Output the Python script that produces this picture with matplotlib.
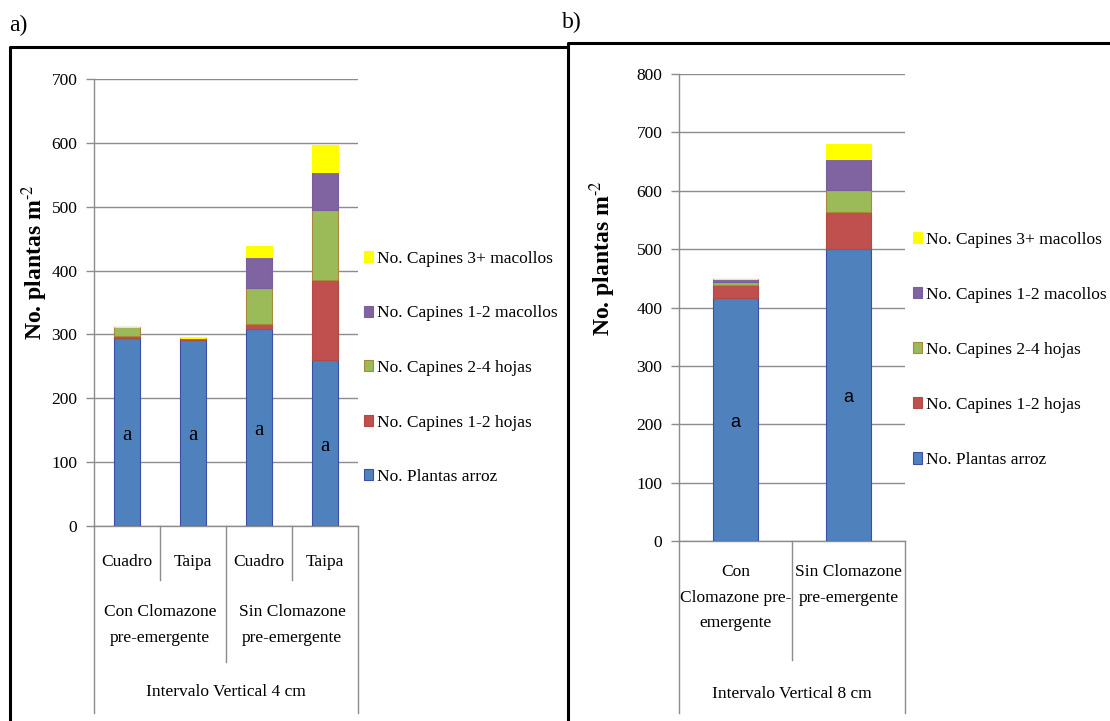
import numpy as np
import matplotlib
matplotlib.use('Agg')
import matplotlib.pyplot as plt
from matplotlib.lines import Line2D

plt.rcParams['font.family'] = ['Liberation Serif', 'DejaVu Serif']
plt.rcParams['mathtext.fontset'] = 'stix'

W, H = 1110, 721

# series apiladas (de abajo hacia arriba)
series = ['No. Plantas arroz', 'No. Capines 1-2 hojas', 'No. Capines 2-4 hojas',
          'No. Capines 1-2 macollos', 'No. Capines 3+ macollos']
colores = ['#4f81bd', '#c0504d', '#9bbb59', '#8064a2', '#ffff00']
bordes = ['#3b4fa6', '#b04a47', '#a8883a', '#7a5f9c', '#ffff00']

# a) Intervalo vertical 4 cm
cat_a = ['Cuadro', 'Taipa', 'Cuadro', 'Taipa']
grupos_a = ['Con Clomazone\npre-emergente', 'Sin Clomazone\npre-emergente']
arroz_a = [294, 292, 309, 260]
h12_a = [3, 2, 8, 125]
h24_a = [15, 1, 55, 110]
m12_a = [0, 0, 49, 59]
m3_a = [0, 0, 17, 43]
letras_a = ['a', 'a', 'a', 'a']

# b) Intervalo vertical 8 cm
cat_b = ['Con\nClomazone pre-\nemergente', 'Sin Clomazone\npre-emergente']
arroz_b = [417, 500]
h12_b = [22, 64]
h24_b = [5, 37]
m12_b = [4, 54]
m3_b = [1, 25]
letras_b = ['a', 'a']

gris = '#8c8c8c'


def fx(px):
    return px / W


def fy(py):
    return 1 - py / H


def barras(ax, valores, ancho, letras, fam_letra, tam_letra):
    x = np.arange(len(valores[0]))
    base = np.zeros(len(x))
    for vals, c, e, nombre in zip(valores, colores, bordes, series):
        ax.bar(x, vals, ancho, bottom=base, color=c, edgecolor=e,
               linewidth=0.8, label=nombre, zorder=3)
        base += np.array(vals)
    for xi, v, l in zip(x, valores[0], letras):
        ax.text(xi, v / 2 - 5, l, ha='center', va='center', zorder=4,
                family=fam_letra, fontsize=tam_letra, color='black')


def estilo(ax, ymax, paso):
    ax.set_ylim(0, ymax)
    ax.set_yticks(np.arange(0, ymax + 1, paso))
    ax.set_xticks([])
    ax.yaxis.grid(True, color=gris, linewidth=1)
    ax.set_axisbelow(True)
    for s in ['top', 'right']:
        ax.spines[s].set_visible(False)
    for s in ['left', 'bottom']:
        ax.spines[s].set_color(gris)
        ax.spines[s].set_linewidth(1)
    ax.tick_params(axis='y', length=6, color=gris, width=1, pad=6,
                   labelsize=12.5)


def linea_cat(ax, x, py_fin, y0_px, alto_px):
    # separador vertical del eje de categorias, y en pixeles de la figura
    ya = (y0_px - py_fin) / alto_px
    ax.plot([x, x], [0, ya], transform=ax.get_xaxis_transform(),
            color=gris, linewidth=1, clip_on=False)


def texto_cat(ax, x, py, s, y0_px, alto_px, va='center'):
    ya = (y0_px - py) / alto_px
    ax.text(x, ya, s, transform=ax.get_xaxis_transform(), ha='center',
            va=va, fontsize=12.5, linespacing=1.8, multialignment='center')


fig = plt.figure(figsize=(W / 100, H / 100), dpi=100)

# ---- panel a ----
a_x0, a_x1, a_top, a_bot = 94, 358, 79, 526
ax_a = fig.add_axes([fx(a_x0), fy(a_bot), (a_x1 - a_x0) / W, (a_bot - a_top) / H])
barras(ax_a, [arroz_a, h12_a, h24_a, m12_a, m3_a], 0.4, letras_a,
       ['Liberation Serif'], 15)
estilo(ax_a, 700, 100)
ax_a.set_xlim(-0.5, len(cat_a) - 0.5)
alto_a = a_bot - a_top
for xs in [0.5, 2.5]:
    linea_cat(ax_a, xs, 580, a_bot, alto_a)
linea_cat(ax_a, 1.5, 662, a_bot, alto_a)
for xs in [-0.5, 3.5]:
    linea_cat(ax_a, xs, 713, a_bot, alto_a)
for i, c in enumerate(cat_a):
    texto_cat(ax_a, i, 562, c, a_bot, alto_a)
for j, g in enumerate(grupos_a):
    texto_cat(ax_a, 0.5 + 2 * j, 625, g, a_bot, alto_a)
texto_cat(ax_a, 1.5, 692, 'Intervalo Vertical 4 cm', a_bot, alto_a)

h, l = ax_a.get_legend_handles_labels()
ax_a.legend(h[::-1], l[::-1], loc='center left',
            bbox_to_anchor=(fx(364), fy(368)), bbox_transform=fig.transFigure,
            frameon=False, fontsize=12.5, handlelength=0.5, handleheight=0.6,
            handletextpad=0.25, labelspacing=2.22, borderpad=0, borderaxespad=0)

# ---- panel b ----
b_x0, b_x1, b_top, b_bot = 679, 905, 74, 541
ax_b = fig.add_axes([fx(b_x0), fy(b_bot), (b_x1 - b_x0) / W, (b_bot - b_top) / H])
barras(ax_b, [arroz_b, h12_b, h24_b, m12_b, m3_b], 0.39, letras_b,
       ['Liberation Sans'], 13)
estilo(ax_b, 800, 100)
ax_b.set_xlim(-0.5, len(cat_b) - 0.5)
alto_b = b_bot - b_top
linea_cat(ax_b, 0.5, 660, b_bot, alto_b)
for xs in [-0.5, 1.5]:
    linea_cat(ax_b, xs, 713, b_bot, alto_b)
for i, c in enumerate(cat_b):
    texto_cat(ax_b, i, 564, c, b_bot, alto_b, va='top')
texto_cat(ax_b, 0.5, 694, 'Intervalo Vertical 8 cm', b_bot, alto_b)

h, l = ax_b.get_legend_handles_labels()
ax_b.legend(h[::-1], l[::-1], loc='center left',
            bbox_to_anchor=(fx(913), fy(350)), bbox_transform=fig.transFigure,
            frameon=False, fontsize=12.5, handlelength=0.5, handleheight=0.6,
            handletextpad=0.25, labelspacing=2.25, borderpad=0, borderaxespad=0)

# etiquetas del eje y
etiqueta_y = r'No. plantas m$^{\text{-}2}$'
fig.text(fx(35), fy(262), etiqueta_y, rotation=90, ha='center', va='center',
         fontsize=17, fontweight='bold')
fig.text(fx(603), fy(258), etiqueta_y, rotation=90, ha='center', va='center',
         fontsize=17, fontweight='bold')

# marcos de los paneles
fig.add_artist(Line2D([fx(10), fx(10), fx(568)], [fy(H), fy(47), fy(47)],
                      transform=fig.transFigure, color='black', linewidth=2.2))
fig.add_artist(Line2D([fx(568), fx(568), fx(W)], [fy(H), fy(43), fy(43)],
                      transform=fig.transFigure, color='black', linewidth=2.2))
fig.text(fx(9), fy(25), 'a)', ha='left', va='center', fontsize=17)
fig.text(fx(562), fy(22), 'b)', ha='left', va='center', fontsize=17)

fig.savefig('out.png', dpi=100)
